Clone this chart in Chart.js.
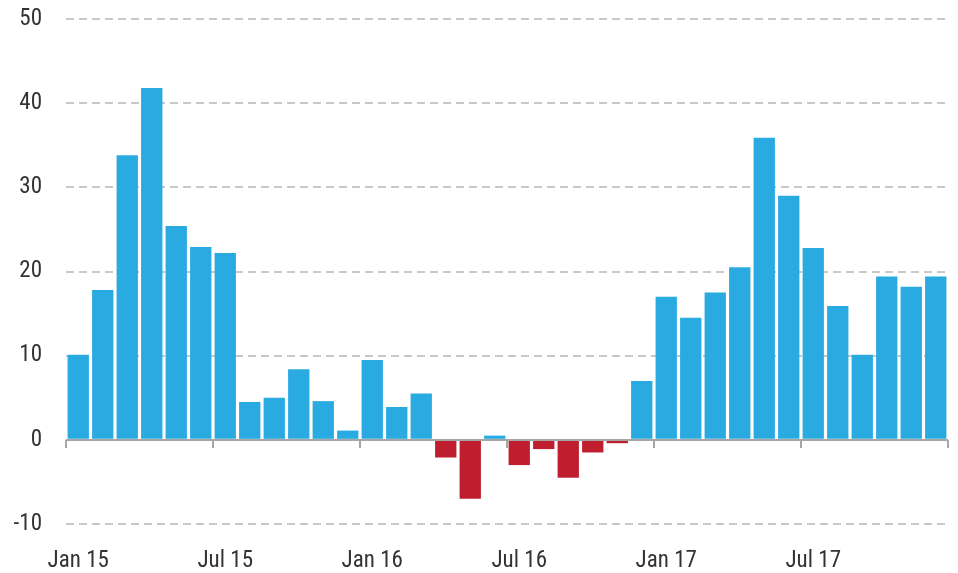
<!DOCTYPE html>
<html><head><meta charset="utf-8">
<script src="https://cdn.jsdelivr.net/npm/chart.js@4"></script>
<style>html,body{margin:0;padding:0;background:#fff}#wrap{width:958px;height:573px;position:relative}</style>
</head><body><div id="wrap"><canvas id="c"></canvas></div>
<script>
const months = ["Jan 15","Feb 15","Mar 15","Apr 15","May 15","Jun 15","Jul 15","Aug 15","Sep 15","Oct 15","Nov 15","Dec 15",
"Jan 16","Feb 16","Mar 16","Apr 16","May 16","Jun 16","Jul 16","Aug 16","Sep 16","Oct 16","Nov 16","Dec 16",
"Jan 17","Feb 17","Mar 17","Apr 17","May 17","Jun 17","Jul 17","Aug 17","Sep 17","Oct 17","Nov 17","Dec 17"];
const values = [10.1,17.8,33.8,41.8,25.4,22.9,22.2,4.5,5.0,8.4,4.6,1.1,
9.5,3.9,5.5,-2.1,-7.0,0.5,-3.0,-1.1,-4.5,-1.5,-0.4,7.0,
17.0,14.5,17.5,20.5,35.9,29.0,22.8,15.9,10.1,19.4,18.2,19.4];
const shownLabels = ["Jan 15","Jul 15","Jan 16","Jul 16","Jan 17","Jul 17"];
const yTicks = [-10,0,10,20,30,40,50];

const FONT = '"Roboto Condensed","Liberation Sans Narrow","DejaVu Sans Condensed","Roboto",sans-serif';
const BLUE = '#29abe2', RED = '#be1e2d';

const axisPlugin = {
  id:'zeroAxis',
  afterDatasetsDraw(chart){
    const {ctx, scales:{x,y}} = chart;
    const y0 = Math.round(y.getPixelForValue(0));
    ctx.save();
    ctx.strokeStyle = '#a6a6a6';
    ctx.lineWidth = 2;
    ctx.beginPath();
    ctx.moveTo(chart.chartArea.left, y0);
    ctx.lineTo(chart.chartArea.right, y0);
    ctx.stroke();
    const half = (x.getPixelForValue(1) - x.getPixelForValue(0)) / 2;
    const n = months.length;
    for (let i = 0; i <= n; i++) {
      if (i % 6 !== 0 && i !== n) continue;
      const px = Math.round(x.getPixelForValue(Math.min(i, n-1)) + (i === n ? half : -half));
      ctx.beginPath();
      ctx.moveTo(px, y0);
      ctx.lineTo(px, y0 + 8);
      ctx.stroke();
    }
    ctx.restore();
  }
};

new Chart(document.getElementById('c'), {
  type:'bar',
  data:{labels:months, datasets:[{data:values,
    backgroundColor: values.map(v => v < 0 ? RED : BLUE),
    borderWidth:0, barPercentage:1, categoryPercentage:0.87}]},
  options:{
    responsive:true, maintainAspectRatio:false, animation:false,
    layout:{padding:{top:19,right:10,left:0,bottom:0}},
    plugins:{legend:{display:false}, tooltip:{enabled:false}},
    scales:{
      x:{
        grid:{display:false}, border:{display:false},
        ticks:{autoSkip:false, maxRotation:0, padding:15, color:'#333',
          font:{family:FONT, size:23},
          callback:function(v,i){ const l = months[i]; return shownLabels.includes(l) ? l : ''; }},
        afterFit(s){ s.height = 49; s.paddingLeft = 0; s.paddingRight = 0; }
      },
      y:{
        min:-10, max:50,
        afterBuildTicks(s){ s.ticks = yTicks.map(v => ({value:v})); },
        grid:{color: c => c.tick && c.tick.value === 0 ? 'rgba(0,0,0,0)' : '#c8c8c8', lineWidth:2, drawTicks:false},
        border:{display:false, dash:[8,5]},
        ticks:{padding:24, color:'#333', font:{family:FONT, size:23}},
        afterFit(s){ s.width = 66; s.paddingTop = 0; s.paddingBottom = 0; }
      }
    }
  },
  plugins:[axisPlugin]
});
</script></body></html>
